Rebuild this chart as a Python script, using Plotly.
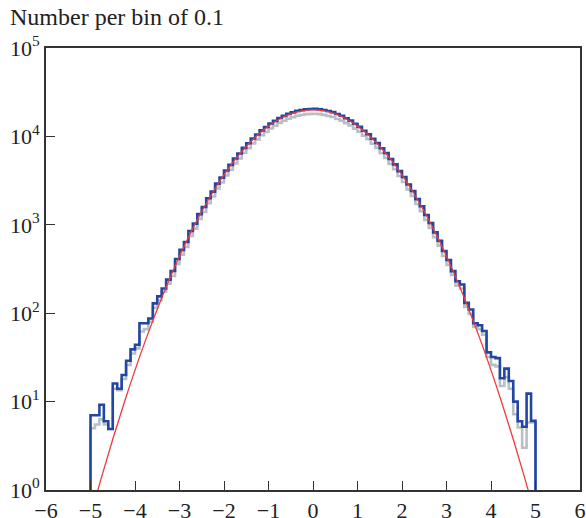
import plotly.graph_objects as go

# ---- data ----
BIN_START = -5.0
BIN_WIDTH = 0.1

blue_counts = [
    7, 7, 9.2, 6.0, 4.9, 16, 14, 20, 29, 39, 44, 77, 77, 87, 129, 155, 190, 240,
    300, 410, 520, 640, 850, 1030, 1320, 1590, 2000, 2370, 2920, 3420, 4120, 4760,
    5630, 6400, 7420, 8350, 9480, 10500, 11700, 12750, 13980, 15000, 16150, 17050,
    17990, 18700, 19450, 19850, 20300, 20450,
    20500, 20300, 19900, 19350, 18800, 17900, 17100, 16050, 15100, 13900, 12850,
    11600, 10580, 9400, 8420, 7350, 6480, 5550, 4820, 4050, 3470, 2860, 2410, 1950,
    1620, 1290, 1050, 820, 660, 505, 400,
    299, 230, 211, 131, 110, 77, 73, 63, 36, 32, 31, 18.4, 23.6, 17.1, 10, 6.0, 5.2,
    12.3, 6.05,
]

gray_counts = [
    5.0, 5.5, 6.3, 5.5, 4.9, 14, 13.5, 18, 26, 35, 40, 62, 66, 80, 115, 140, 175, 215,
    264, 361, 458, 563, 748, 906, 1162, 1399, 1760, 2086, 2570, 3010, 3626, 4189,
    4954, 5632, 6530, 7348, 8342, 9240, 10296, 11220, 12302, 13200, 14212, 15004,
    15831, 16456, 17116, 17468, 17864, 17996,
    18040, 17864, 17512, 17028, 16544, 15752, 15048, 14124, 13288, 12232, 11308,
    10208, 9310, 8272, 7410, 6468, 5702, 4884, 4242, 3564, 3054, 2517, 2121, 1716,
    1426, 1135, 924, 722, 581, 444, 352,
    270, 205, 190, 118, 98, 70, 66, 57, 32, 26, 25, 15, 19, 14, 7.2, 5.1, 3.0,
    5.8, 5.8,
]

fit_x = [-5.0, -4.75, -4.5, -4.25, -4.0, -3.75, -3.5, -3.25, -3.0, -2.75, -2.5,
         -2.25, -2.0, -1.75, -1.5, -1.25, -1.0, -0.75, -0.5, -0.25, 0.0,
         0.25, 0.5, 0.75, 1.0, 1.25, 1.5, 1.75, 2.0, 2.25, 2.5, 2.75, 3.0,
         3.25, 3.5, 3.75, 4.0, 4.25, 4.5, 4.75, 5.0]
fit_y = [0.50, 1.41, 3.75, 9.47, 22.7, 51.6, 111, 227, 441, 810, 1413,
         2336, 3660, 5450, 7690, 10290, 13060, 15720, 17950, 19430, 19953,
         19430, 17950, 15720, 13060, 10290, 7690, 5450, 3660, 2336, 1413, 810, 441,
         227, 111, 51.6, 22.7, 9.47, 3.75, 1.41, 0.50]

x_ticks = [-6, -5, -4, -3, -2, -1, 0, 1, 2, 3, 4, 5, 6]
y_tickvals = [1, 10, 100, 1000, 10000, 100000]
y_ticktext = ["10<sup>0</sup>", "10<sup>1</sup>", "10<sup>2</sup>",
              "10<sup>3</sup>", "10<sup>4</sup>", "10<sup>5</sup>"]
BASELINE = 0.3  # below the visible axis range, closes the outer bin edges


def step_xy(counts):
    n = len(counts)
    edges = [round(BIN_START + i * BIN_WIDTH, 2) for i in range(n + 1)]
    xs = [edges[0]] + edges + [edges[-1]]
    ys = [BASELINE] + list(counts) + [counts[-1], BASELINE]
    return xs, ys


FONT = "Liberation Serif"
FS = 22

fig = go.Figure()
gx, gy = step_xy(gray_counts)
fig.add_trace(go.Scatter(x=gx, y=gy, mode="lines", line=dict(color="#b9c0c4", width=2.6, shape="hv"),
                         hoverinfo="skip", showlegend=False))
bx, by = step_xy(blue_counts)
fig.add_trace(go.Scatter(x=bx, y=by, mode="lines", line=dict(color="#2346a3", width=2.6, shape="hv"),
                         hoverinfo="skip", showlegend=False))
fig.add_trace(go.Scatter(x=fit_x, y=fit_y, mode="lines", line=dict(color="#f03a3a", width=1.3, shape="spline"),
                         hoverinfo="skip", showlegend=False))

fig.update_layout(
    width=586, height=518,
    margin=dict(l=46, r=6, t=48, b=28, autoexpand=False),
    paper_bgcolor="white", plot_bgcolor="white",
    font=dict(family=FONT, size=FS, color="#222222"),
    showlegend=False,
)
fig.update_xaxes(
    range=[-6, 6], tickvals=x_ticks, ticks="inside", ticklen=9, tickwidth=1.4,
    tickcolor="#333333", showline=True, linecolor="#333333", linewidth=1.6, mirror=True,
    showgrid=False, zeroline=False, automargin=False,
    tickfont=dict(family=FONT, size=FS, color="#222222"),
)
fig.update_yaxes(
    type="log", range=[0, 5], tickvals=y_tickvals, ticktext=y_ticktext,
    ticks="inside", ticklen=9, tickwidth=1.4, tickcolor="#333333",
    showline=True, linecolor="#333333", linewidth=1.6, mirror=True,
    showgrid=False, zeroline=False, automargin=False,
    tickfont=dict(family=FONT, size=FS, color="#222222"),
)
fig.add_annotation(
    text="Number per bin of 0.1", xref="paper", yref="paper",
    x=-0.0712, y=1.07, xanchor="left", yanchor="middle", showarrow=False,
    font=dict(family=FONT, size=24, color="#222222"),
)

# remove the default page margin so the figure fills the 586x518 window exactly
PAGE_FIX = "document.body.style.margin='0';document.body.style.overflow='hidden';"
fig.write_html("out.html", post_script=PAGE_FIX, config={"displayModeBar": False})
